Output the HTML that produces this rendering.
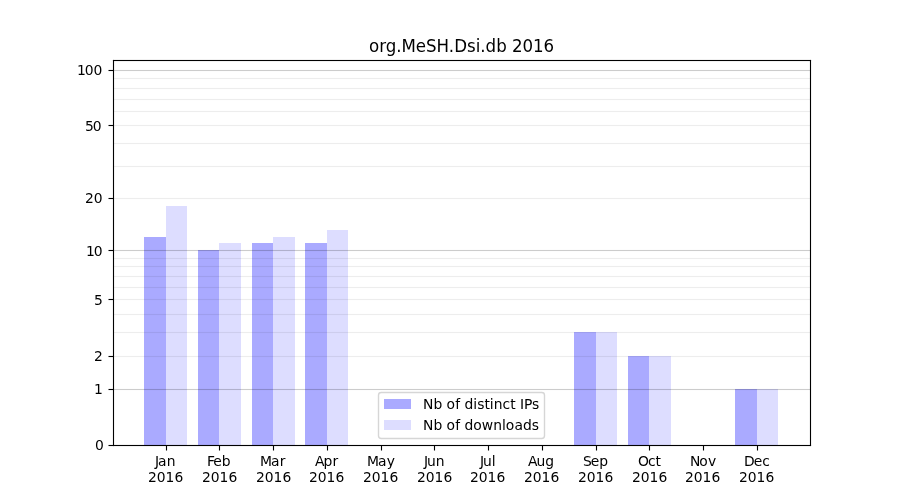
<!DOCTYPE html>
<html lang="en"><head><meta charset="utf-8"><title>org.MeSH.Dsi.db 2016</title>
<style>html,body{margin:0;padding:0;background:#fff;overflow:hidden}svg{display:block}text{font-family:"DejaVu Sans","Liberation Sans",sans-serif;font-size:13.889px;fill:#000;white-space:pre}.t{font-size:16.667px}</style></head><body>
<svg width="900" height="500" viewBox="0 0 900 500">
<rect width="900" height="500" fill="#fff"/>
<g shape-rendering="crispEdges">
<rect x="144" y="237" width="22" height="208" fill="#aaaaff"/>
<rect x="166" y="206" width="21" height="239" fill="#ddddff"/>
<rect x="198" y="250" width="21" height="195" fill="#aaaaff"/>
<rect x="219" y="243" width="22" height="202" fill="#ddddff"/>
<rect x="252" y="243" width="21" height="202" fill="#aaaaff"/>
<rect x="273" y="237" width="22" height="208" fill="#ddddff"/>
<rect x="305" y="243" width="22" height="202" fill="#aaaaff"/>
<rect x="327" y="230" width="21" height="215" fill="#ddddff"/>
<rect x="574" y="332" width="22" height="113" fill="#aaaaff"/>
<rect x="596" y="332" width="21" height="113" fill="#ddddff"/>
<rect x="628" y="356" width="21" height="89" fill="#aaaaff"/>
<rect x="649" y="356" width="22" height="89" fill="#ddddff"/>
<rect x="735" y="389" width="22" height="56" fill="#aaaaff"/>
<rect x="757" y="389" width="21" height="56" fill="#ddddff"/>
</g>
<g fill="#000">
<rect x="113.5" y="388.9445" width="697" height="1.1111" fill-opacity="0.2"/>
<rect x="113.5" y="355.9445" width="697" height="1.1111" fill-opacity="0.07"/>
<rect x="113.5" y="331.9445" width="697" height="1.1111" fill-opacity="0.07"/>
<rect x="113.5" y="313.9445" width="697" height="1.1111" fill-opacity="0.07"/>
<rect x="113.5" y="298.9445" width="697" height="1.1111" fill-opacity="0.07"/>
<rect x="113.5" y="286.9445" width="697" height="1.1111" fill-opacity="0.07"/>
<rect x="113.5" y="275.9445" width="697" height="1.1111" fill-opacity="0.07"/>
<rect x="113.5" y="265.9445" width="697" height="1.1111" fill-opacity="0.07"/>
<rect x="113.5" y="257.9445" width="697" height="1.1111" fill-opacity="0.07"/>
<rect x="113.5" y="249.9444" width="697" height="1.1111" fill-opacity="0.2"/>
<rect x="113.5" y="197.9444" width="697" height="1.1111" fill-opacity="0.07"/>
<rect x="113.5" y="165.9444" width="697" height="1.1111" fill-opacity="0.07"/>
<rect x="113.5" y="142.9444" width="697" height="1.1111" fill-opacity="0.07"/>
<rect x="113.5" y="124.9445" width="697" height="1.1111" fill-opacity="0.07"/>
<rect x="113.5" y="110.9445" width="697" height="1.1111" fill-opacity="0.07"/>
<rect x="113.5" y="98.9445" width="697" height="1.1111" fill-opacity="0.07"/>
<rect x="113.5" y="87.9445" width="697" height="1.1111" fill-opacity="0.07"/>
<rect x="113.5" y="77.9445" width="697" height="1.1111" fill-opacity="0.07"/>
<rect x="113.5" y="69.9445" width="697" height="1.1111" fill-opacity="0.2"/>
</g>
<rect x="378.5" y="392.5" width="166" height="46" rx="2.78" ry="2.78" fill="#fff" fill-opacity="0.8" stroke="#ccc" stroke-opacity="0.8" stroke-width="1.3889"/>
<rect x="384" y="399" width="27" height="10" fill="#aaaaff" shape-rendering="crispEdges"/>
<rect x="384" y="420" width="27" height="10" fill="#ddddff" shape-rendering="crispEdges"/>
<text transform="translate(0,409) scale(1,1.06)" x="423 433.5 442.5 446.5 455.25 460.25 464.5 473.25 477.25 484.5 489.75 493.75 502.5 510.25 515.75 520 524 532" y="0">Nb of distinct IPs</text>
<text transform="translate(0,430) scale(1,1.05)" x="423 433.5 442.5 446.5 455.25 460.25 464.5 473.25 481.75 493.25 502 505.75 514.5 523 531.75" y="0">Nb of downloads</text>
<g fill="#000">
<rect x="165.9444" y="445.5" width="1.1111" height="5"/>
<rect x="218.9444" y="445.5" width="1.1111" height="5"/>
<rect x="272.9445" y="445.5" width="1.1111" height="5"/>
<rect x="326.9445" y="445.5" width="1.1111" height="5"/>
<rect x="380.9445" y="445.5" width="1.1111" height="5"/>
<rect x="433.9445" y="445.5" width="1.1111" height="5"/>
<rect x="487.9445" y="445.5" width="1.1111" height="5"/>
<rect x="541.9444" y="445.5" width="1.1111" height="5"/>
<rect x="595.9444" y="445.5" width="1.1111" height="5"/>
<rect x="648.9444" y="445.5" width="1.1111" height="5"/>
<rect x="702.9444" y="445.5" width="1.1111" height="5"/>
<rect x="756.9444" y="445.5" width="1.1111" height="5"/>
<rect x="108.5" y="444.9445" width="5" height="1.1111"/>
<rect x="108.5" y="388.9445" width="5" height="1.1111"/>
<rect x="108.5" y="355.9445" width="5" height="1.1111"/>
<rect x="108.5" y="298.9445" width="5" height="1.1111"/>
<rect x="108.5" y="249.9444" width="5" height="1.1111"/>
<rect x="108.5" y="197.9444" width="5" height="1.1111"/>
<rect x="108.5" y="124.9445" width="5" height="1.1111"/>
<rect x="108.5" y="69.9445" width="5" height="1.1111"/>
<rect x="112.9445" y="59.9445" width="1.1111" height="386.1111"/>
<rect x="809.9444" y="59.9445" width="1.1111" height="386.1111"/>
<rect x="112.9445" y="59.9445" width="698.1111" height="1.1111"/>
<rect x="112.9445" y="444.9445" width="698.1111" height="1.1111"/>
</g>
<text transform="translate(0,466) scale(1,1.02)" x="155 158 166.75" y="0">Jan</text>
<text transform="translate(0,482) scale(1,1.04)" x="148 156.75 165.5 174.5" y="0">2016</text>
<text x="207 213.25 221.75" y="466">Feb</text>
<text transform="translate(0,482) scale(1,1.04)" x="202 210.75 219.5 228.5" y="0">2016</text>
<text transform="translate(0,466) scale(1,1.02)" x="260 271 279.75" y="0">Mar</text>
<text transform="translate(0,482) scale(1,1.04)" x="256 264.75 273.5 282.5" y="0">2016</text>
<text transform="translate(0,466) scale(1,1.06)" x="315 323.5 332.5" y="0">Apr</text>
<text transform="translate(0,482) scale(1,1.04)" x="309 317.75 326.5 335.5" y="0">2016</text>
<text transform="translate(0,466) scale(1,1.02)" x="367 378 386.75" y="0">May</text>
<text transform="translate(0,482) scale(1,1.04)" x="363 371.75 380.5 389.5" y="0">2016</text>
<text transform="translate(0,466) scale(1,1.03)" x="424 427 435.75" y="0">Jun</text>
<text transform="translate(0,482) scale(1,1.04)" x="417 425.75 434.5 443.5" y="0">2016</text>
<text transform="translate(0,466) scale(1,1.04)" x="480 483 491.75" y="0">Jul</text>
<text transform="translate(0,482) scale(1,1.04)" x="470 478.75 487.5 496.5" y="0">2016</text>
<text transform="translate(0,466) scale(1,0.97)" x="528 536.5 545.25" y="0">Aug</text>
<text transform="translate(0,482) scale(1,1.04)" x="524 532.75 541.5 550.5" y="0">2016</text>
<text transform="translate(0,466) scale(1,1.03)" x="583 590.75 599.25" y="0">Sep</text>
<text transform="translate(0,482) scale(1,1.04)" x="578 586.75 595.5 604.5" y="0">2016</text>
<text transform="translate(0,466) scale(1,1.07)" x="638 648 655.5" y="0">Oct</text>
<text transform="translate(0,482) scale(1,1.04)" x="632 640.75 649.5 658.5" y="0">2016</text>
<text transform="translate(0,466) scale(1,1.03)" x="690 699.25 708" y="0">Nov</text>
<text transform="translate(0,482) scale(1,1.04)" x="685 693.75 702.5 711.5" y="0">2016</text>
<text transform="translate(0,466) scale(1,1.02)" x="744 753.75 762.25" y="0">Dec</text>
<text transform="translate(0,482) scale(1,1.04)" x="739 747.75 756.5 765.5" y="0">2016</text>
<text transform="translate(0,450) scale(1,1.04)" x="95" y="0">0</text>
<text transform="translate(0,394) scale(1,1.05)" x="94" y="0">1</text>
<text transform="translate(0,361) scale(1,1.03)" x="94" y="0">2</text>
<text transform="translate(0,305) scale(1,1.02)" x="94" y="0">5</text>
<text transform="translate(0,256) scale(1,1.05)" x="86 93.75" y="0">10</text>
<text transform="translate(0,203) scale(1,1.04)" x="85 93.75" y="0">20</text>
<text transform="translate(0,131) scale(1,1.04)" x="85 92.75" y="0">50</text>
<text transform="translate(0,75) scale(1,1.05)" x="77 84.75 93.5" y="0">100</text>
<text class="t" transform="translate(0,52) scale(1,1.08)" x="369 379.25 385.75 396.25 401.5 415.75 426 436.5 448.75 454.25 467 475.75 480.25 485.5 496.25 506.5 512 522.5 533 543.5" y="0">org.MeSH.Dsi.db 2016</text>
</svg></body></html>
